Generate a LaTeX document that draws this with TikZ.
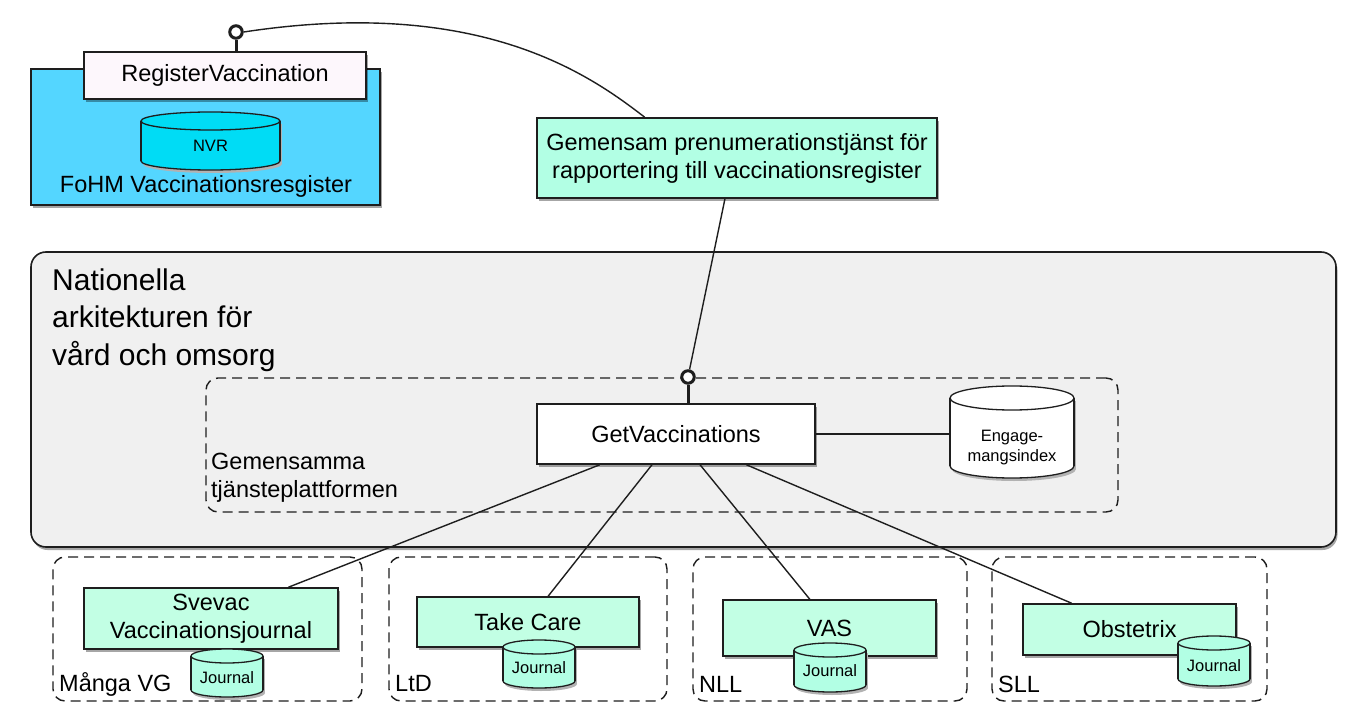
\documentclass[tikz,border=0pt]{standalone}
\usepackage{fontspec}
\setmainfont{Liberation Sans}
\usetikzlibrary{shadows,calc}
\definecolor{cyanbox}{RGB}{84,214,255}
\definecolor{nvrcol}{RGB}{0,220,245}
\definecolor{regfill}{RGB}{253,247,252}
\definecolor{mintA}{RGB}{178,255,228}
\definecolor{mintB}{RGB}{194,255,228}
\definecolor{greyfill}{RGB}{240,240,240}
\definecolor{edge}{RGB}{30,30,30}
\newcommand\mycyl[6]{%
  \fill[black!30] (#1+2,#3-#5+3) ellipse [x radius=#4, y radius=#5];
  \fill[black!30] (#1-#4+2,#2+#5+3) rectangle (#1+#4+2,#3-#5+3);
  \filldraw[fill=#6, cylline] (#1,#3-#5) ellipse [x radius=#4, y radius=#5];
  \fill[#6] (#1-#4,#2+#5) rectangle (#1+#4,#3-#5);
  \draw[cylline] (#1-#4,#2+#5) -- (#1-#4,#3-#5) (#1+#4,#2+#5) -- (#1+#4,#3-#5);
  \filldraw[fill=#6, cylline] (#1,#2+#5) ellipse [x radius=#4, y radius=#5];
}
\tikzset{
  cylline/.style={draw=edge, line width=1.3pt},
  shad/.style={drop shadow={shadow xshift=1.5pt, shadow yshift=-3pt, fill=black, opacity=0.35}},
  box/.style={draw=edge, line width=1.6pt, rectangle, inner sep=0pt, align=center, shad},
  grp/.style={draw=edge, line width=1.4pt, dash pattern=on 10pt off 6pt, rounded corners=12pt, rectangle, inner sep=0pt, minimum height=144pt},
  lbl/.style={font=\fontsize{23.5}{28}\selectfont, inner sep=0pt, align=center},
  small/.style={font=\fontsize{16.5}{20}\selectfont, inner sep=0pt, align=center},
  conn/.style={draw=edge, line width=1.4pt},
  lolli/.style={circle, draw=edge, line width=3pt, fill=white, minimum size=12.5pt, inner sep=0pt},
  stem/.style={draw=edge, line width=3pt},
}
\begin{document}
\begin{tikzpicture}[x=1pt, y=-1pt]
\useasboundingbox[fill=white] (0,0) rectangle (1355,719);

% National architecture
\node[box, rounded corners=15pt, fill=greyfill, minimum width=1305pt, minimum height=295pt] (nat) at (683.5,399.5) {};
\node[anchor=north west, align=left, inner sep=0pt, font=\fontsize{30}{37.5}\selectfont] (title) at (52,268.5) {Nationella\\arkitekturen för\\vård och omsorg};

% Gemensamma tjansteplattformen
\node[grp, minimum width=912pt, minimum height=134pt] (gtp) at (662,445) {};
\node[lbl, align=left, anchor=west] (gtplbl) at (211,478) {Gemensamma\\tjänsteplattformen};

\node[box, fill=white, minimum width=278pt, minimum height=60pt, lbl] (getv) at (676,434) {GetVaccinations};
\mycyl{1012}{386}{478}{62}{12}{white}
\node[small, minimum width=124pt] (eng) at (1012,448) {Engage-\\mangsindex};

% FoHM
\node[box, fill=cyanbox, minimum width=349pt, minimum height=136pt] (fohm) at (205.5,137) {};
\node[box, fill=regfill, minimum width=282pt, minimum height=47pt, lbl] (reg) at (225,75.5) {RegisterVaccination};
\mycyl{210.5}{112}{170}{69.5}{9}{nvrcol}
\node[small] (nvr) at (210.5,146) {NVR};
\node[lbl] (fohmlbl) at (206,186) {FoHM Vaccinationsresgister};

% Prenumeration
\node[box, fill=mintA, minimum width=400pt, minimum height=80pt, lbl] (pren) at (737,158) {Gemensam prenumerationstjänst för\\rapportering till vaccinationsregister};

% lollipops
\node[lolli] (lp1) at (236,32) {};
\draw[stem] (lp1) -- (lp1 |- reg.north);
\node[lolli] (lp2) at (688,377) {};
\draw[stem] (lp2) -- (lp2 |- getv.north);

\draw[conn] (lp1.east) .. controls (480,-4) and (590,75) .. ($(pren.north west)!0.27!(pren.north east)$);
\draw[conn] ($(pren.south west)!0.47!(pren.south east)$) -- (lp2);
\draw[conn] (getv.east) -- (getv.east -| eng.west);

% groups
\node[grp, minimum width=309pt] (g1) at (207.5,629) {};
\node[grp, minimum width=278pt] (g2) at (528,629) {};
\node[grp, minimum width=274pt] (g3) at (830,629) {};
\node[grp, minimum width=275pt] (g4) at (1129.5,629) {};
\node[lbl, anchor=west] (g1l) at (59,684) {Många VG};
\node[lbl, anchor=west] (g2l) at (395,684) {LtD};
\node[lbl, anchor=west] (g3l) at (699,684) {NLL};
\node[lbl, anchor=west] (g4l) at (998,684) {SLL};

% systems
\node[box, fill=mintB, minimum width=254pt, minimum height=61pt, lbl] (sv) at (211,618.5) {Svevac\\Vaccinationsjournal};
\node[box, fill=mintB, minimum width=222pt, minimum height=50pt, lbl] (tc) at (528,622) {Take Care};
\node[box, fill=mintB, minimum width=213pt, minimum height=56pt, lbl] (vas) at (829.5,628) {VAS};
\node[box, fill=mintB, minimum width=213pt, minimum height=51pt, lbl] (obs) at (1129.5,629.5) {Obstetrix};

\mycyl{227}{649}{697}{36}{7}{mintA}
\node[small] (j1) at (227,678) {Journal};
\mycyl{539}{640}{688}{36}{7}{mintA}
\node[small] (j2) at (539,668) {Journal};
\mycyl{830}{643}{692}{36}{7}{mintA}
\node[small] (j3) at (830,671) {Journal};
\mycyl{1214}{636}{686}{36}{7}{mintA}
\node[small] (j4) at (1214,666) {Journal};

% connectors
\draw[conn] ($(getv.south west)!0.227!(getv.south east)$) -- ($(sv.north west)!0.803!(sv.north east)$);
\draw[conn] ($(getv.south west)!0.414!(getv.south east)$) -- ($(tc.north west)!0.59!(tc.north east)$);
\draw[conn] ($(getv.south west)!0.586!(getv.south east)$) -- ($(vas.north west)!0.408!(vas.north east)$);
\draw[conn] ($(getv.south west)!0.752!(getv.south east)$) -- ($(obs.north west)!0.23!(obs.north east)$);
\end{tikzpicture}
\end{document}
